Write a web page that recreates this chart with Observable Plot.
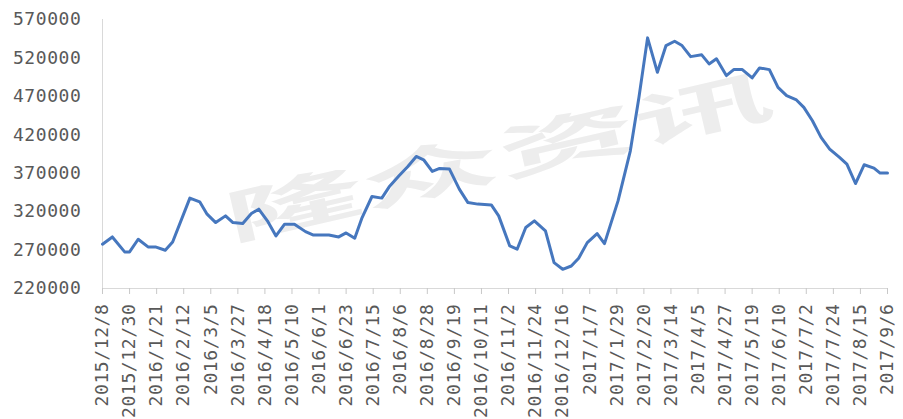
<!DOCTYPE html>
<html>
<head>
<meta charset="utf-8">
<script src="https://cdn.jsdelivr.net/npm/d3@7"></script>
<script src="https://cdn.jsdelivr.net/npm/@observablehq/plot@0.6"></script>
<style>
  html, body { margin: 0; padding: 0; background: #fff; }
  #chart svg g[aria-label="x-axis tick label"] text,
  #chart svg g[aria-label="y-axis tick label"] text { letter-spacing: 0.6px; }
</style>
</head>
<body>
<div id="chart"></div>
<script>
// Weekly price series, 2015/12 – 2017/9
const dates = [
  "2015/12/8", "2015/12/16", "2015/12/26", "2015/12/30",
  "2016/1/6", "2016/1/14", "2016/1/20", "2016/1/28",
  "2016/2/3", "2016/2/17", "2016/2/25",
  "2016/3/2", "2016/3/9", "2016/3/17", "2016/3/23", "2016/3/31",
  "2016/4/7", "2016/4/13", "2016/4/20", "2016/4/27",
  "2016/5/4", "2016/5/12", "2016/5/21", "2016/5/27",
  "2016/6/9", "2016/6/17", "2016/6/23", "2016/6/30",
  "2016/7/6", "2016/7/14", "2016/7/22", "2016/7/28",
  "2016/8/5", "2016/8/12", "2016/8/19", "2016/8/25",
  "2016/9/1", "2016/9/7", "2016/9/15", "2016/9/23", "2016/9/30",
  "2016/10/8", "2016/10/19", "2016/10/25",
  "2016/11/3", "2016/11/9", "2016/11/16", "2016/11/23",
  "2016/12/2", "2016/12/9", "2016/12/16", "2016/12/23", "2016/12/29",
  "2017/1/5", "2017/1/13", "2017/1/19", "2017/1/30",
  "2017/2/9", "2017/2/16", "2017/2/23",
  "2017/3/3", "2017/3/10", "2017/3/17", "2017/3/23", "2017/3/30",
  "2017/4/8", "2017/4/14", "2017/4/20", "2017/4/28",
  "2017/5/4", "2017/5/11", "2017/5/19", "2017/5/25",
  "2017/6/2", "2017/6/9", "2017/6/16", "2017/6/24", "2017/6/30",
  "2017/7/7", "2017/7/14", "2017/7/21", "2017/7/29",
  "2017/8/4", "2017/8/11", "2017/8/18", "2017/8/26", "2017/8/31",
  "2017/9/6"
];
const values = [
  277600, 287100, 267600, 267600,
  284100, 274100, 274100, 269800,
  280600, 337600, 332800,
  316700, 305800, 314500, 305800, 304500,
  317500, 323200, 308000, 288400,
  303700, 303700, 294000, 289700,
  289700, 287100, 292300, 285400,
  312300, 339700, 337600, 352300,
  366600, 378400, 391800, 387500,
  372300, 376200, 375400, 349300, 331800,
  329800, 328800, 314500,
  275400, 271100, 299300, 308000,
  295000, 253600, 245000, 249300, 259400,
  279700, 291400, 278400, 334000,
  399200, 468700, 546100,
  501300, 536100, 541700, 536100, 521700,
  524000, 512200, 518800, 497000,
  504800, 504800, 494000, 507000,
  504800, 481700, 470900, 465300, 455700,
  438300, 416600, 401400, 390500,
  381900, 356600, 381000, 376700, 370200,
  370200
];

// Category labels along the bottom, every 22 days
const xTickLabels = [
  "2015/12/8", "2015/12/30", "2016/1/21", "2016/2/12", "2016/3/5",
  "2016/3/27", "2016/4/18", "2016/5/10", "2016/6/1", "2016/6/23",
  "2016/7/15", "2016/8/6", "2016/8/28", "2016/9/19", "2016/10/11",
  "2016/11/2", "2016/11/24", "2016/12/16", "2017/1/7", "2017/1/29",
  "2017/2/20", "2017/3/14", "2017/4/5", "2017/4/27", "2017/5/19",
  "2017/6/10", "2017/7/2", "2017/7/24", "2017/8/15", "2017/9/6"
];
const yTicks = [220000, 270000, 320000, 370000, 420000, 470000, 520000, 570000];

const parse = d3.utcParse("%Y/%m/%d");
const series = dates.map((d, i) => ({date: parse(d), value: values[i]}));
const xTicks = xTickLabels.map(parse);
const fmtDate = d => `${d.getUTCFullYear()}/${d.getUTCMonth() + 1}/${d.getUTCDate()}`;

const axisGray = "#d9d9d9";
const textGray = "#595959";

const chart = Plot.plot({
  width: 903,
  height: 419,
  marginLeft: 102,
  marginRight: 16,
  marginTop: 19,
  marginBottom: 131,
  style: {
    fontFamily: "'DejaVu Sans Mono', monospace",
    fontSize: "18px",
    color: textGray,
    background: "#fff"
  },
  x: {type: "utc", domain: [xTicks[0], xTicks[xTicks.length - 1]]},
  y: {domain: [yTicks[0], yTicks[yTicks.length - 1]]},
  marks: [
    Plot.ruleY([yTicks[0]], {stroke: axisGray, strokeWidth: 1}),
    Plot.ruleX([xTicks[0]], {stroke: axisGray, strokeWidth: 1}),
    Plot.axisX({
      ticks: xTicks,
      tickFormat: fmtDate,
      tickRotate: -90,
      tickSize: 6,
      tickPadding: 9,
      stroke: "#c8c8c8",
      fill: textGray,
      label: null
    }),
    Plot.axisY({
      ticks: yTicks,
      tickFormat: d3.format("d"),
      tickSize: 0,
      tickPadding: 21,
      fill: textGray,
      label: null
    }),
    Plot.line(series, {
      x: "date",
      y: "value",
      stroke: "#4677be",
      strokeWidth: 3,
      strokeLinejoin: "round",
      strokeLinecap: "round"
    })
  ]
});

// Faint diagonal watermark behind the line
d3.select(chart)
  .insert("text", 'g[aria-label="line"]')
  .attr("transform", "translate(500,162) rotate(-13) scale(1.8,0.74)")
  .attr("text-anchor", "middle")
  .attr("dominant-baseline", "middle")
  .attr("font-family", "'Noto Sans CJK SC', sans-serif")
  .attr("font-weight", "bold")
  .attr("font-size", 78)
  .attr("fill", "#ededed")
  .text("隆众资讯");

document.getElementById("chart").appendChild(chart);
</script>
</body>
</html>
